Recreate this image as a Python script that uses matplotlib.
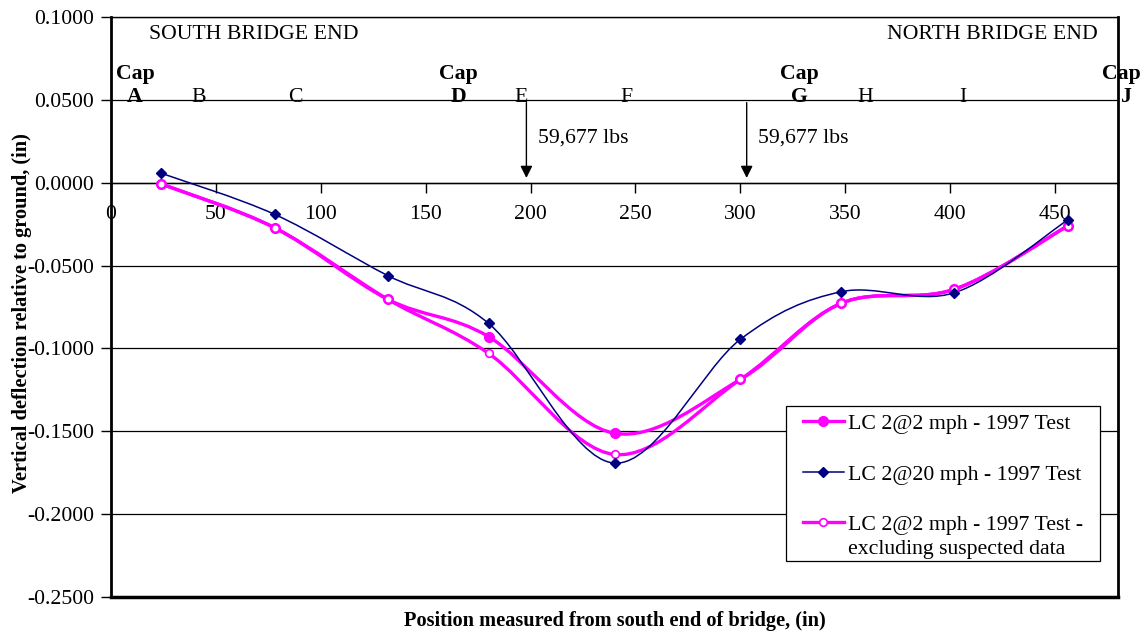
import matplotlib.pyplot as plt
from matplotlib.path import Path
from matplotlib.patches import PathPatch, Rectangle
from matplotlib.lines import Line2D
from matplotlib.legend_handler import HandlerLine2D
import numpy as np

plt.rcParams['font.family'] = ['Liberation Serif', 'DejaVu Serif']

# Data
position = [24, 78, 132, 180, 240, 300, 348, 402, 456]
lc2_2mph = [-0.0008, -0.0272, -0.0704, -0.0929, -0.1512, -0.1187, -0.0728, -0.0643, -0.0261]
lc2_20mph = [0.0057, -0.0191, -0.0561, -0.0849, -0.1692, -0.0945, -0.0658, -0.0664, -0.0225]
lc2_2mph_excl = [-0.0008, -0.0272, -0.0704, -0.1030, -0.1640, -0.1187, -0.0728, -0.0643, -0.0261]

series_labels = ['LC 2@2 mph - 1997 Test', 'LC 2@20 mph - 1997 Test',
                 'LC 2@2 mph - 1997 Test -\nexcluding suspected data']

span_letters = ['A', 'B', 'C', 'D', 'E', 'F', 'G', 'H', 'I', 'J']
span_pos = [11.5, 42, 88, 165.5, 195.5, 245.5, 328, 359.5, 406, 484]
cap_pos = {'A': 11.5, 'D': 165.5, 'G': 328, 'J': 481.5}

load_pos = [198, 303]
load_text = '59,677 lbs'

FS = 15.7
MAGENTA = '#FF00FF'
NAVY = '#000080'


def smooth_path(x, y):
    # Excel-style smoothed line: Catmull-Rom segments as cubic Beziers
    pts = np.column_stack([x, y]).astype(float)
    n = len(pts)
    verts = [pts[0]]
    codes = [Path.MOVETO]
    for i in range(n - 1):
        p0 = pts[i - 1] if i > 0 else pts[i]
        p1 = pts[i]
        p2 = pts[i + 1]
        p3 = pts[i + 2] if i + 2 < n else pts[i + 1]
        c1 = p1 + (p2 - p0) / 6.0
        c2 = p2 - (p3 - p1) / 6.0
        verts += [c1, c2, p2]
        codes += [Path.CURVE4] * 3
    return Path(verts, codes)


class FirstLineHandler(HandlerLine2D):
    # put the legend sample next to the first line of a two-line label
    def create_artists(self, legend, orig_handle, xdescent, ydescent, width, height, fontsize, trans):
        arts = super().create_artists(legend, orig_handle, xdescent, ydescent, width, height, fontsize, trans)
        for a in arts:
            a.set_ydata(np.asarray(a.get_ydata()) + 10.5)
        return arts


fig = plt.figure(figsize=(11.42, 6.37), dpi=100)
ax = fig.add_axes([0.0972, 0.0628, 0.8818, 0.9105])

ax.set_xlim(0, 480)
ax.set_ylim(-0.25, 0.10)

# grid lines
for yv in np.arange(-0.20, 0.10, 0.05):
    ax.axhline(yv, color='black', lw=0.9, zorder=1)

# curves
ax.add_patch(PathPatch(smooth_path(position, lc2_2mph), fill=False, edgecolor=MAGENTA, lw=2.4, zorder=3))
ax.add_patch(PathPatch(smooth_path(position, lc2_2mph_excl), fill=False, edgecolor=MAGENTA, lw=2.4, zorder=3))
ax.add_patch(PathPatch(smooth_path(position, lc2_20mph), fill=False, edgecolor=NAVY, lw=1.1, zorder=4))

ax.plot(position, lc2_2mph, ls='none', marker='o', ms=7, color=MAGENTA, zorder=5)
ax.plot(position, lc2_2mph_excl, ls='none', marker='o', ms=5.5, mfc='white', mec=MAGENTA, mew=1.2, zorder=5)
ax.plot(position, lc2_20mph, ls='none', marker='D', ms=5.5, color=NAVY, zorder=6)

# axes: x axis crosses at zero, frame around plot area
ax.spines['bottom'].set_position(('data', 0))
ax.spines['bottom'].set_linewidth(1.0)
for s in ['left', 'right']:
    ax.spines[s].set_linewidth(2.0)
ax.spines['top'].set_linewidth(1.0)
ax.axhline(-0.25, color='black', lw=2.5, clip_on=False, zorder=2)

yticks = np.arange(-0.25, 0.101, 0.05)
ax.set_xticks(np.arange(0, 451, 50))
ax.set_yticks(yticks)
ax.set_yticklabels(['%.4f' % (round(v, 4) + 0.0) for v in yticks])
ax.tick_params(axis='x', direction='out', length=7, width=1, pad=9, labelsize=FS)
ax.tick_params(axis='y', direction='out', length=7, width=1, pad=5, labelsize=FS)

fig.text(22 / 1142, 1 - 313 / 637, 'Vertical deflection relative to ground, (in)', fontsize=FS - 1,
         fontweight='bold', rotation=90, ha='center', va='center')
fig.text(0.538, 0.01, 'Position measured from south end of bridge, (in)', fontsize=FS - 1,
         fontweight='bold', ha='center', va='bottom')

# bridge annotations
ax.text(68, 0.0897, 'SOUTH BRIDGE END', fontsize=FS, ha='center', va='center')
ax.text(420, 0.0897, 'NORTH BRIDGE END', fontsize=FS, ha='center', va='center')

for letter, xp in zip(span_letters, span_pos):
    bold = letter in cap_pos
    ax.text(xp, 0.0486, letter, fontsize=FS, ha='center', va='baseline',
            fontweight='bold' if bold else 'normal', clip_on=False)
    if bold:
        ax.text(cap_pos[letter], 0.0628, 'Cap', fontsize=FS, ha='center', va='baseline',
                fontweight='bold', clip_on=False)

for xp in load_pos:
    ax.annotate('', xy=(xp, 0.0012), xytext=(xp, 0.05),
                arrowprops=dict(arrowstyle='-|>', color='black', lw=1.0, mutation_scale=18))
    ax.text(xp + 5.5, 0.027, load_text, fontsize=FS, ha='left', va='center')

# legend box and entries
ax.add_patch(Rectangle((0.6703, 0.0621), 0.9821 - 0.6703, 0.3293 - 0.0621, transform=ax.transAxes,
                       facecolor='white', edgecolor='black', lw=0.9, zorder=7))
handles = [
    Line2D([], [], color=MAGENTA, lw=2.4, marker='o', ms=7),
    Line2D([], [], color=NAVY, lw=1.1, marker='D', ms=5.5),
    Line2D([], [], color=MAGENTA, lw=2.4, marker='o', ms=5.5, mfc='white', mec=MAGENTA, mew=1.2),
]
leg = ax.legend(handles, series_labels, loc='upper left', bbox_to_anchor=(0.6872, 0.3165),
                fontsize=FS, frameon=False, handlelength=1.86, handletextpad=0.22,
                labelspacing=1.42, borderpad=0, borderaxespad=0,
                handler_map={handles[2]: FirstLineHandler()})
leg.set_zorder(8)
for t in leg.get_texts():
    t.set_linespacing(1.4)

fig.savefig('out.png', dpi=100)
